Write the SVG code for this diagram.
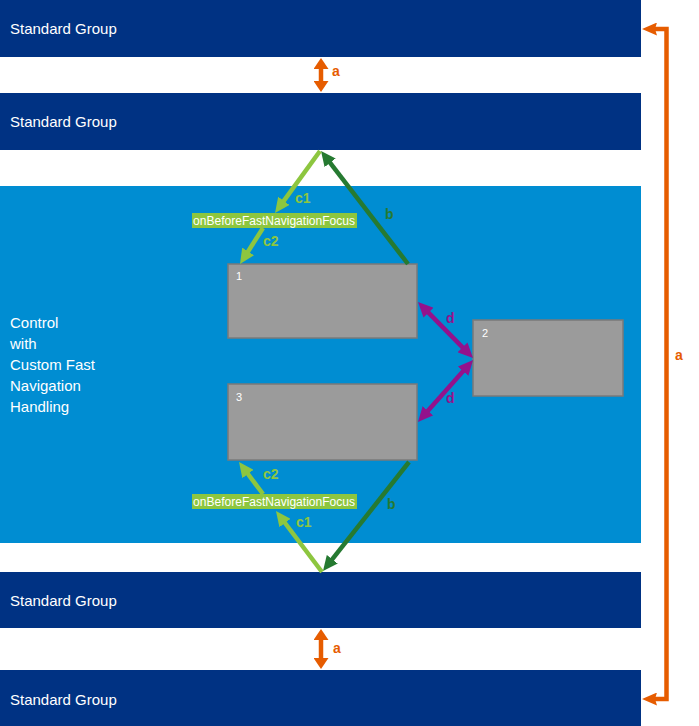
<svg xmlns="http://www.w3.org/2000/svg" width="699" height="726" viewBox="0 0 699 726">
<style>
.band{fill:#003283}
.ctrl{fill:#008DD2}
.box{fill:#9B9B9B;stroke:#7A7A7A;stroke-width:1.5}
.wt{fill:#FFFFFF;font-family:"Liberation Sans",Arial,sans-serif}
.lbl{font-family:"Liberation Sans",Arial,sans-serif;font-weight:bold;font-size:14px}
.ln{fill:none;stroke-width:4.5}
.dg{stroke:#267A31}
.lg{stroke:#8DC63F}
.pu{stroke:#93128C}
.or{stroke:#E65C00}
</style>
<defs>
<marker id="hDG" viewBox="0 0 15 14" markerWidth="15" markerHeight="14" refX="5" refY="7" orient="auto-start-reverse" markerUnits="userSpaceOnUse"><path d="M0,0 L15,7 L0,14 z" fill="#267A31"/></marker>
<marker id="hLG" viewBox="0 0 15 14" markerWidth="15" markerHeight="14" refX="5" refY="7" orient="auto-start-reverse" markerUnits="userSpaceOnUse"><path d="M0,0 L15,7 L0,14 z" fill="#8DC63F"/></marker>
<marker id="hPU" viewBox="0 0 15 14" markerWidth="15" markerHeight="14" refX="5" refY="7" orient="auto-start-reverse" markerUnits="userSpaceOnUse"><path d="M0,0 L15,7 L0,14 z" fill="#93128C"/></marker>
<marker id="hOR" viewBox="0 0 11 15" markerWidth="11" markerHeight="15" refX="3" refY="7.5" orient="auto-start-reverse" markerUnits="userSpaceOnUse"><path d="M0,0 L11,7.5 L0,15 z" fill="#E65C00"/></marker>
<marker id="hOR2" viewBox="0 0 15 13" markerWidth="15" markerHeight="13" refX="7" refY="6.5" orient="auto-start-reverse" markerUnits="userSpaceOnUse"><path d="M0,0 L15,6.5 L0,13 L2,6.5 z" fill="#E65C00"/></marker>
</defs>

<g id="band1"><rect class="band" x="0" y="0" width="641" height="57"/><text class="wt" x="10" y="34" font-size="15">Standard Group</text></g>
<g id="band2"><rect class="band" x="0" y="93" width="641" height="57"/><text class="wt" x="10" y="127" font-size="15">Standard Group</text></g>
<g id="control"><rect class="ctrl" x="0" y="186" width="641" height="357"/>
<text class="wt" font-size="15"><tspan x="10" y="328">Control</tspan><tspan x="10" y="349">with</tspan><tspan x="10" y="370">Custom Fast</tspan><tspan x="10" y="391">Navigation</tspan><tspan x="10" y="412">Handling</tspan></text></g>
<g id="band3"><rect class="band" x="0" y="572" width="641" height="56"/><text class="wt" x="10" y="606" font-size="15">Standard Group</text></g>
<g id="band4"><rect class="band" x="0" y="670" width="641" height="56"/><text class="wt" x="10" y="705" font-size="15">Standard Group</text></g>

<g id="box1"><rect class="box" x="228" y="264" width="189" height="74"/><text class="wt" x="236" y="280" font-size="11">1</text></g>
<g id="box2"><rect class="box" x="473" y="320" width="150" height="76"/><text class="wt" x="482" y="337" font-size="11">2</text></g>
<g id="box3"><rect class="box" x="228" y="384" width="189" height="76"/><text class="wt" x="236" y="401" font-size="11">3</text></g>

<g id="labelTop"><rect x="192" y="213" width="165" height="15" fill="#8DC63F"/><text class="wt" x="193" y="225" font-size="12" textLength="162" lengthAdjust="spacingAndGlyphs">onBeforeFastNavigationFocus</text></g>
<g id="labelBottom"><rect x="192" y="494" width="165" height="15" fill="#8DC63F"/><text class="wt" x="193" y="506" font-size="12" textLength="162" lengthAdjust="spacingAndGlyphs">onBeforeFastNavigationFocus</text></g>

<g id="connectors">
<line class="ln or" x1="321" y1="66" x2="321" y2="84" stroke-width="5" marker-start="url(#hOR)" marker-end="url(#hOR)"/>
<line class="ln or" x1="321" y1="637" x2="321" y2="661" stroke-width="5" marker-start="url(#hOR)" marker-end="url(#hOR)"/>
<polyline class="ln or" points="650,29 666.5,29 666.5,699 650,699" stroke-width="4.5" marker-start="url(#hOR2)" marker-end="url(#hOR2)"/>

<line class="ln dg" x1="408" y1="264" x2="327.1" y2="158.9" marker-end="url(#hDG)"/>
<line class="ln dg" x1="409" y1="462" x2="329.2" y2="563.2" marker-end="url(#hDG)"/>

<line class="ln lg" x1="320" y1="151" x2="280.9" y2="204.9" marker-end="url(#hLG)"/>
<line class="ln lg" x1="263" y1="228" x2="245.4" y2="255.6" marker-end="url(#hLG)"/>
<line class="ln lg" x1="322" y1="572" x2="282" y2="519" marker-end="url(#hLG)"/>
<line class="ln lg" x1="263" y1="494" x2="245" y2="470" marker-end="url(#hLG)"/>

<line class="ln pu" x1="425" y1="309.1" x2="466" y2="350.9" marker-start="url(#hPU)" marker-end="url(#hPU)"/>
<line class="ln pu" x1="466.4" y1="367.5" x2="424.6" y2="414.5" marker-start="url(#hPU)" marker-end="url(#hPU)"/>

<text class="lbl" x="332" y="76" fill="#E65C00">a</text>
<text class="lbl" x="333" y="653" fill="#E65C00">a</text>
<text class="lbl" x="675" y="360" fill="#E65C00">a</text>
<text class="lbl" x="295" y="203" fill="#8DC63F">c1</text>
<text class="lbl" x="263" y="246" fill="#8DC63F">c2</text>
<text class="lbl" x="263" y="479" fill="#8DC63F">c2</text>
<text class="lbl" x="296" y="527" fill="#8DC63F">c1</text>
<text class="lbl" x="385" y="219" fill="#267A31">b</text>
<text class="lbl" x="387" y="509" fill="#267A31">b</text>
<text class="lbl" x="446" y="323" fill="#93128C">d</text>
<text class="lbl" x="446" y="403" fill="#93128C">d</text>
</g>
</svg>
